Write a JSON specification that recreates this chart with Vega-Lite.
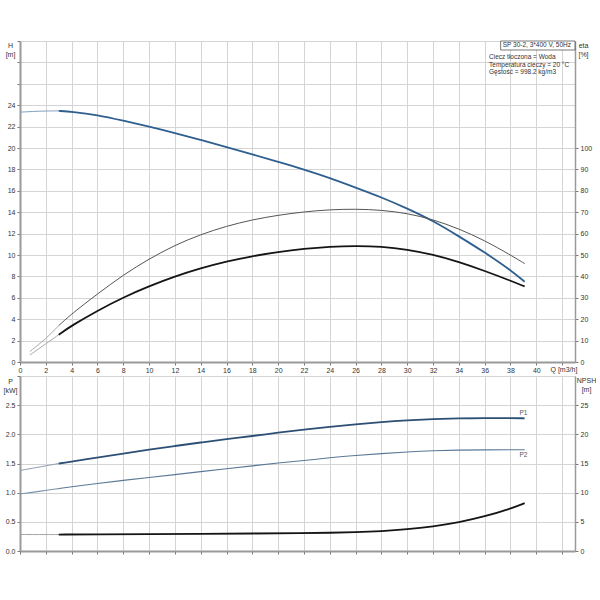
{
  "$schema": "https://vega.github.io/schema/vega-lite/v6.json",
  "padding": {"left": 3, "top": 37, "right": 0, "bottom": 0},
  "background": "white",
  "config": {
    "font": "Liberation Sans",
    "view": {"stroke": null},
    "line": {"interpolate": "basis"},
    "axis": {
      "labelFontSize": 7,
      "labelColor": "#333",
      "labelOverlap": false,
      "labelSeparation": -60,
      "titleFontSize": 7,
      "titleFontWeight": "normal",
      "titleColor": "#333",
      "gridColor": "#d4d4d4",
      "gridWidth": 1,
      "domainColor": "#9a9a9a",
      "domainWidth": 2,
      "tickColor": "#777",
      "tickSize": 3,
      "labelPadding": 2
    }
  },
  "datasets": {
    "head": [
      {"q": 0, "h": 23.35, "part": "ext"},
      {"q": 1.5, "h": 23.45, "part": "ext"},
      {"q": 3, "h": 23.47, "part": "ext"},
      {"q": 3, "h": 23.47, "part": "main"},
      {"q": 4, "h": 23.4, "part": "main"},
      {"q": 6, "h": 23.1, "part": "main"},
      {"q": 8, "h": 22.55, "part": "main"},
      {"q": 10, "h": 22.0, "part": "main"},
      {"q": 12, "h": 21.4, "part": "main"},
      {"q": 14, "h": 20.75, "part": "main"},
      {"q": 16, "h": 20.1, "part": "main"},
      {"q": 18, "h": 19.4, "part": "main"},
      {"q": 20, "h": 18.7, "part": "main"},
      {"q": 22, "h": 18.0, "part": "main"},
      {"q": 24, "h": 17.2, "part": "main"},
      {"q": 26, "h": 16.3, "part": "main"},
      {"q": 28, "h": 15.4, "part": "main"},
      {"q": 30, "h": 14.35, "part": "main"},
      {"q": 32, "h": 13.2, "part": "main"},
      {"q": 34, "h": 11.75, "part": "main"},
      {"q": 36, "h": 10.25, "part": "main"},
      {"q": 38, "h": 8.6, "part": "main"},
      {"q": 39.1, "h": 7.5, "part": "main"}
    ],
    "etaPump": [
      {"q": 0.77, "eta": 4.9, "part": "ext"},
      {"q": 2, "eta": 10.8, "part": "ext"},
      {"q": 3, "eta": 17, "part": "ext"},
      {"q": 3, "eta": 17, "part": "main"},
      {"q": 4, "eta": 22.5, "part": "main"},
      {"q": 6, "eta": 31.8, "part": "main"},
      {"q": 8, "eta": 40.7, "part": "main"},
      {"q": 10, "eta": 48.2, "part": "main"},
      {"q": 12, "eta": 54.6, "part": "main"},
      {"q": 14, "eta": 59.6, "part": "main"},
      {"q": 16, "eta": 63.5, "part": "main"},
      {"q": 18, "eta": 66.5, "part": "main"},
      {"q": 20, "eta": 68.6, "part": "main"},
      {"q": 22, "eta": 70.2, "part": "main"},
      {"q": 24, "eta": 71.2, "part": "main"},
      {"q": 26, "eta": 71.5, "part": "main"},
      {"q": 28, "eta": 71, "part": "main"},
      {"q": 30, "eta": 69.5, "part": "main"},
      {"q": 32, "eta": 66.6, "part": "main"},
      {"q": 34, "eta": 62.3, "part": "main"},
      {"q": 36, "eta": 56.8, "part": "main"},
      {"q": 38, "eta": 50, "part": "main"},
      {"q": 39.1, "eta": 46, "part": "main"}
    ],
    "etaTotal": [
      {"q": 0.77, "eta": 3.3, "part": "ext"},
      {"q": 2, "eta": 8.5, "part": "ext"},
      {"q": 3, "eta": 12.75, "part": "ext"},
      {"q": 3, "eta": 12.75, "part": "main"},
      {"q": 4, "eta": 17, "part": "main"},
      {"q": 6, "eta": 24, "part": "main"},
      {"q": 8, "eta": 30.2, "part": "main"},
      {"q": 10, "eta": 35.4, "part": "main"},
      {"q": 12, "eta": 40, "part": "main"},
      {"q": 14, "eta": 43.8, "part": "main"},
      {"q": 16, "eta": 47, "part": "main"},
      {"q": 18, "eta": 49.5, "part": "main"},
      {"q": 20, "eta": 51.4, "part": "main"},
      {"q": 22, "eta": 52.9, "part": "main"},
      {"q": 24, "eta": 53.9, "part": "main"},
      {"q": 26, "eta": 54.3, "part": "main"},
      {"q": 28, "eta": 54, "part": "main"},
      {"q": 30, "eta": 52.6, "part": "main"},
      {"q": 32, "eta": 50.2, "part": "main"},
      {"q": 34, "eta": 46.8, "part": "main"},
      {"q": 36, "eta": 42.6, "part": "main"},
      {"q": 38, "eta": 38, "part": "main"},
      {"q": 39.1, "eta": 35.3, "part": "main"}
    ],
    "p1": [
      {"q": 0, "p": 1.38, "part": "ext"},
      {"q": 1.5, "p": 1.44, "part": "ext"},
      {"q": 3, "p": 1.5, "part": "ext"},
      {"q": 3, "p": 1.5, "part": "main"},
      {"q": 6, "p": 1.6, "part": "main"},
      {"q": 8, "p": 1.67, "part": "main"},
      {"q": 10, "p": 1.74, "part": "main"},
      {"q": 12, "p": 1.8, "part": "main"},
      {"q": 14, "p": 1.86, "part": "main"},
      {"q": 16, "p": 1.92, "part": "main"},
      {"q": 18, "p": 1.97, "part": "main"},
      {"q": 20, "p": 2.03, "part": "main"},
      {"q": 22, "p": 2.08, "part": "main"},
      {"q": 24, "p": 2.13, "part": "main"},
      {"q": 26, "p": 2.17, "part": "main"},
      {"q": 28, "p": 2.21, "part": "main"},
      {"q": 30, "p": 2.24, "part": "main"},
      {"q": 32, "p": 2.26, "part": "main"},
      {"q": 34, "p": 2.275, "part": "main"},
      {"q": 36, "p": 2.28, "part": "main"},
      {"q": 38, "p": 2.28, "part": "main"},
      {"q": 39.1, "p": 2.275, "part": "main"}
    ],
    "p2": [
      {"q": 0, "p": 0.98, "part": "ext"},
      {"q": 1.5, "p": 1.02, "part": "ext"},
      {"q": 3, "p": 1.07, "part": "ext"},
      {"q": 3, "p": 1.07, "part": "main"},
      {"q": 4, "p": 1.1, "part": "main"},
      {"q": 6, "p": 1.16, "part": "main"},
      {"q": 8, "p": 1.21, "part": "main"},
      {"q": 10, "p": 1.26, "part": "main"},
      {"q": 12, "p": 1.31, "part": "main"},
      {"q": 14, "p": 1.36, "part": "main"},
      {"q": 16, "p": 1.41, "part": "main"},
      {"q": 18, "p": 1.46, "part": "main"},
      {"q": 20, "p": 1.51, "part": "main"},
      {"q": 22, "p": 1.55, "part": "main"},
      {"q": 24, "p": 1.6, "part": "main"},
      {"q": 26, "p": 1.64, "part": "main"},
      {"q": 28, "p": 1.67, "part": "main"},
      {"q": 30, "p": 1.7, "part": "main"},
      {"q": 32, "p": 1.72, "part": "main"},
      {"q": 34, "p": 1.73, "part": "main"},
      {"q": 36, "p": 1.735, "part": "main"},
      {"q": 38, "p": 1.735, "part": "main"},
      {"q": 39.1, "p": 1.735, "part": "main"}
    ],
    "npsh": [
      {"q": 0, "n": 2.83, "part": "ext"},
      {"q": 1.5, "n": 2.82, "part": "ext"},
      {"q": 3, "n": 2.82, "part": "ext"},
      {"q": 3, "n": 2.82, "part": "main"},
      {"q": 6, "n": 2.85, "part": "main"},
      {"q": 10, "n": 2.9, "part": "main"},
      {"q": 14, "n": 2.95, "part": "main"},
      {"q": 18, "n": 3.0, "part": "main"},
      {"q": 22, "n": 3.06, "part": "main"},
      {"q": 24, "n": 3.12, "part": "main"},
      {"q": 26, "n": 3.22, "part": "main"},
      {"q": 28, "n": 3.4, "part": "main"},
      {"q": 30, "n": 3.7, "part": "main"},
      {"q": 32, "n": 4.2, "part": "main"},
      {"q": 34, "n": 4.9, "part": "main"},
      {"q": 36, "n": 5.9, "part": "main"},
      {"q": 38, "n": 7.25, "part": "main"},
      {"q": 39.1, "n": 8.2, "part": "main"}
    ]
  },
  "spacing": -1,
  "resolve": {"scale": {"x": "independent", "y": "independent"}},
  "vconcat": [
    {
      "width": 555,
      "height": 321,
      "encoding": {
        "x": {
          "type": "quantitative",
          "scale": {"domain": [0, 43], "nice": false},
          "axis": {
            "values": [0, 2, 4, 6, 8, 10, 12, 14, 16, 18, 20, 22, 24, 26, 28, 30, 32, 34, 36, 38, 40, 42],
            "labelExpr": "datum.value > 40 ? '' : datum.label",
            "labelOverlap": false,
            "labelFlush": false,
            "labelPadding": 1,
            "title": "Q [m3/h]",
            "titleX": 530,
            "titleY": 7,
            "titleAlign": "left",
            "titleBaseline": "middle"
          }
        }
      },
      "layer": [
        {
          "encoding": {
            "y": {
              "type": "quantitative",
              "scale": {"domain": [0, 30], "nice": false},
              "axis": {
                "values": [0, 2, 4, 6, 8, 10, 12, 14, 16, 18, 20, 22, 24, 26, 28, 30],
                "labelExpr": "datum.value > 24 ? '' : datum.label",
                "labelOverlap": false,
                "title": ["H", "[m]"],
                "titleAngle": 0,
                "titleX": -10,
                "titleY": 0,
                "titleAlign": "center",
                "titleBaseline": "top",
                "titleLineHeight": 9
              }
            }
          },
          "layer": [
            {
              "data": {"name": "head"},
              "mark": {"type": "line"},
              "encoding": {
                "x": {"field": "q", "type": "quantitative"},
                "y": {"field": "h", "type": "quantitative"},
                "detail": {"field": "part"},
                "color": {"condition": {"test": "datum.part == 'ext'", "value": "#7f9fc2"}, "value": "#2f5f8f"},
                "strokeWidth": {"condition": {"test": "datum.part == 'ext'", "value": 1}, "value": 1.8}
              }
            },
            {
              "data": {"values": [{}]},
              "mark": {"type": "rect", "fill": "white", "stroke": "#555", "strokeWidth": 0.8},
              "encoding": {
                "x": {"datum": 37.24, "type": "quantitative"},
                "x2": {"datum": 43},
                "y": {"datum": 29.16, "type": "quantitative"},
                "y2": {"datum": 30}
              }
            },
            {
              "data": {"values": [{}]},
              "mark": {"type": "text", "align": "left", "baseline": "middle", "fontSize": 6.5, "color": "#333"},
              "encoding": {
                "x": {"datum": 37.4, "type": "quantitative"},
                "y": {"datum": 29.58, "type": "quantitative"},
                "text": {"value": "SP 30-2, 3*400 V, 50Hz"}
              }
            },
            {
              "data": {"values": [{}]},
              "mark": {"type": "text", "align": "left", "baseline": "top", "fontSize": 6.5, "lineHeight": 7.3, "color": "#333"},
              "encoding": {
                "x": {"datum": 36.34, "type": "quantitative"},
                "y": {"datum": 28.74, "type": "quantitative"},
                "text": {"value": ["Ciecz tłoczona = Woda", "Temperatura cieczy = 20 °C", "Gęstość = 998.2 kg/m3"]}
              }
            }
          ]
        },
        {
          "layer": [
            {
              "data": {"name": "etaPump"},
              "mark": {"type": "line"},
              "encoding": {
                "x": {"field": "q", "type": "quantitative"},
                "y": {"field": "eta", "type": "quantitative"},
                "detail": {"field": "part"},
                "color": {"condition": {"test": "datum.part == 'ext'", "value": "#a8a8a8"}, "value": "#555555"},
                "strokeWidth": {"value": 1}
              }
            },
            {
              "data": {"name": "etaTotal"},
              "mark": {"type": "line"},
              "encoding": {
                "x": {"field": "q", "type": "quantitative"},
                "y": {"field": "eta", "type": "quantitative"},
                "detail": {"field": "part"},
                "color": {"condition": {"test": "datum.part == 'ext'", "value": "#a8a8a8"}, "value": "#151515"},
                "strokeWidth": {"condition": {"test": "datum.part == 'ext'", "value": 1}, "value": 1.8}
              }
            }
          ],
          "encoding": {
            "y": {
              "type": "quantitative",
              "scale": {"domain": [0, 150], "nice": false},
              "axis": {
                "orient": "right",
                "values": [0, 10, 20, 30, 40, 50, 60, 70, 80, 90, 100],
                "labelOverlap": false,
                "grid": false,
                "domainWidth": 1.5,
                "title": ["eta", "[%]"],
                "titleAngle": 0,
                "titleX": 8,
                "titleY": 0,
                "titleAlign": "center",
                "titleBaseline": "top",
                "titleLineHeight": 9
              }
            }
          }
        }
      ],
      "resolve": {"scale": {"y": "independent"}}
    },
    {
      "width": 555,
      "height": 175,
      "encoding": {
        "x": {
          "type": "quantitative",
          "scale": {"domain": [0, 43], "nice": false},
          "axis": {
            "values": [0, 2, 4, 6, 8, 10, 12, 14, 16, 18, 20, 22, 24, 26, 28, 30, 32, 34, 36, 38, 40, 42],
            "labels": false,
            "title": null
          }
        }
      },
      "layer": [
        {
          "encoding": {
            "y": {
              "type": "quantitative",
              "scale": {"domain": [0, 3], "nice": false},
              "axis": {
                "values": [0, 0.5, 1, 1.5, 2, 2.5, 3],
                "format": ".1f",
                "labelExpr": "datum.value > 2.5 ? '' : datum.label",
                "labelOverlap": false,
                "title": ["P", "[kW]"],
                "titleAngle": 0,
                "titleX": -10,
                "titleY": 1,
                "titleAlign": "center",
                "titleBaseline": "top",
                "titleLineHeight": 9
              }
            }
          },
          "layer": [
            {
              "data": {"name": "p1"},
              "mark": {"type": "line"},
              "encoding": {
                "x": {"field": "q", "type": "quantitative"},
                "y": {"field": "p", "type": "quantitative"},
                "detail": {"field": "part"},
                "color": {"condition": {"test": "datum.part == 'ext'", "value": "#8a9db0"}, "value": "#2b4f75"},
                "strokeWidth": {"condition": {"test": "datum.part == 'ext'", "value": 1}, "value": 1.8}
              }
            },
            {
              "data": {"name": "p2"},
              "mark": {"type": "line"},
              "encoding": {
                "x": {"field": "q", "type": "quantitative"},
                "y": {"field": "p", "type": "quantitative"},
                "detail": {"field": "part"},
                "color": {"condition": {"test": "datum.part == 'ext'", "value": "#7d93a8"}, "value": "#5a7896"},
                "strokeWidth": {"value": 1.1}
              }
            },
            {
              "data": {"values": [{}]},
              "mark": {"type": "text", "align": "center", "baseline": "middle", "fontSize": 6.5, "color": "#555"},
              "encoding": {
                "x": {"datum": 39.0, "type": "quantitative"},
                "y": {"datum": 2.36, "type": "quantitative"},
                "text": {"value": "P1"}
              }
            },
            {
              "data": {"values": [{}]},
              "mark": {"type": "text", "align": "center", "baseline": "middle", "fontSize": 6.5, "color": "#555"},
              "encoding": {
                "x": {"datum": 39.0, "type": "quantitative"},
                "y": {"datum": 1.64, "type": "quantitative"},
                "text": {"value": "P2"}
              }
            }
          ]
        },
        {
          "data": {"name": "npsh"},
          "mark": {"type": "line"},
          "encoding": {
            "x": {"field": "q", "type": "quantitative"},
            "y": {
              "field": "n",
              "type": "quantitative",
              "scale": {"domain": [0, 30], "nice": false},
              "axis": {
                "orient": "right",
                "values": [0, 5, 10, 15, 20, 25],
                "labelOverlap": false,
                "grid": false,
                "domainWidth": 1.5,
                "title": ["NPSH", "[m]"],
                "titleAngle": 0,
                "titleX": 11,
                "titleY": 0,
                "titleAlign": "center",
                "titleBaseline": "top",
                "titleLineHeight": 9
              }
            },
            "detail": {"field": "part"},
            "color": {"condition": {"test": "datum.part == 'ext'", "value": "#a0a0a0"}, "value": "#151515"},
            "strokeWidth": {"condition": {"test": "datum.part == 'ext'", "value": 1}, "value": 1.8}
          }
        }
      ],
      "resolve": {"scale": {"y": "independent"}}
    }
  ]
}
